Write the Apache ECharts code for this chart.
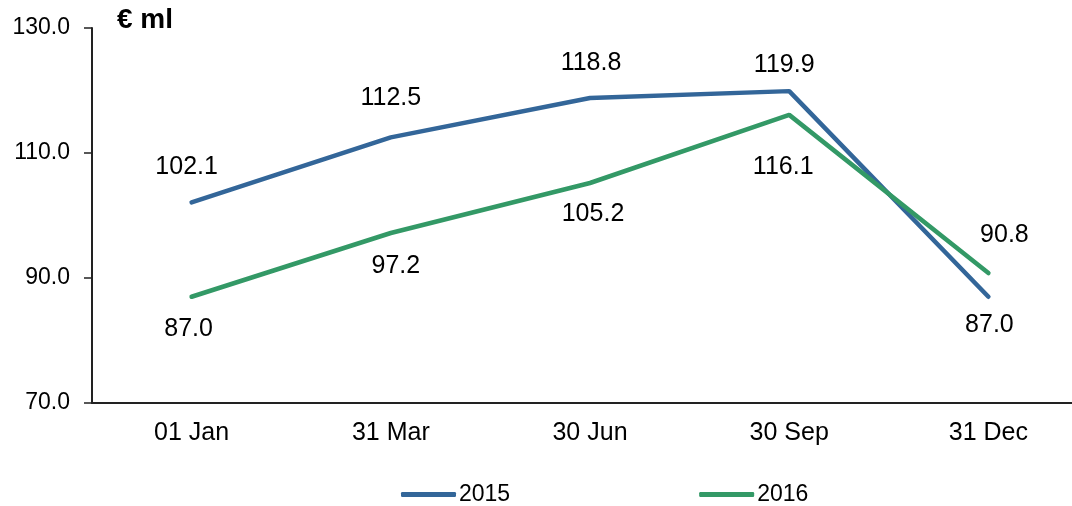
<!DOCTYPE html>
<html>
<head>
<meta charset="utf-8">
<script src="https://cdn.jsdelivr.net/npm/echarts@6/dist/echarts.min.js"></script>
<style>
html,body{margin:0;padding:0;background:#fff;overflow:hidden;}
#ChartMain{width:1072px;height:506px;}
</style>
</head>
<body>
<div id="ChartMain"></div>
<script>
var categories = ['01 Jan', '31 Mar', '30 Jun', '30 Sep', '31 Dec'];
var data2015 = [102.1, 112.5, 118.8, 119.9, 87.0];
var data2016 = [87.0, 97.2, 105.2, 116.1, 90.8];
// where each value label sits, relative to its point (px)
var labelDx2015 = [-5, 0, 1, -5, 1];
var labelDy2015 = [-35, -39, -35, -26, 28];
var labelDx2016 = [-3, 5, 3, -6, 16];
var labelDy2016 = [32, 33, 31, 52, -38];

function withLabels(vals, dx, dy) {
    return vals.map(function (v, i) {
        return {value: v, label: {offset: [dx[i], dy[i]]}};
    });
}

var chart = echarts.init(document.getElementById('ChartMain'));
var font = 'Liberation Sans, Arial, sans-serif';
var labelStyle = {
    show: true, position: 'inside', fontSize: 25, color: '#000', fontFamily: font,
    formatter: function (p) { return p.value.toFixed(1); }
};
var option = {
    animation: false,
    textStyle: {fontFamily: font},
    title: {
        text: '€ ml', left: 112, top: 1,
        textStyle: {fontSize: 28, fontWeight: 'bold', color: '#000', fontFamily: font}
    },
    legend: {
        top: 478, left: 396, itemGap: 189,
        icon: 'roundRect', itemWidth: 55, itemHeight: 5,
        textStyle: {fontSize: 23, color: '#000', fontFamily: font, padding: [0, 0, 0, -2]},
        data: ['2015', '2016']
    },
    grid: {left: 92, top: 28, width: 996, height: 375, outerBoundsMode: 'none', containLabel: false},
    xAxis: {
        type: 'category', data: categories, boundaryGap: true,
        axisLine: {lineStyle: {color: '#222', width: 2}},
        axisTick: {inside: true, length: 7, lineStyle: {color: '#222', width: 1.5}},
        axisLabel: {fontSize: 25, color: '#000', margin: 18, fontFamily: font}
    },
    yAxis: {
        type: 'value', min: 70, max: 130, interval: 20,
        axisLine: {show: true, lineStyle: {color: '#222', width: 2}},
        axisTick: {show: true, length: 8, lineStyle: {color: '#222', width: 1.5}},
        splitLine: {show: false},
        axisLabel: {fontSize: 23, color: '#000', margin: 22, fontFamily: font,
            formatter: function (v) { return v.toFixed(1); }}
    },
    series: [
        {
            name: '2015', type: 'line', data: withLabels(data2015, labelDx2015, labelDy2015),
            symbol: 'circle', symbolSize: 0, showSymbol: true,
            lineStyle: {color: '#336699', width: 4.5, cap: 'round'}, itemStyle: {color: '#336699'},
            label: labelStyle
        },
        {
            name: '2016', type: 'line', data: withLabels(data2016, labelDx2016, labelDy2016),
            symbol: 'circle', symbolSize: 0, showSymbol: true,
            lineStyle: {color: '#339966', width: 4.5, cap: 'round'}, itemStyle: {color: '#339966'},
            label: labelStyle
        }
    ]
};
chart.setOption(option);
</script>
</body>
</html>
